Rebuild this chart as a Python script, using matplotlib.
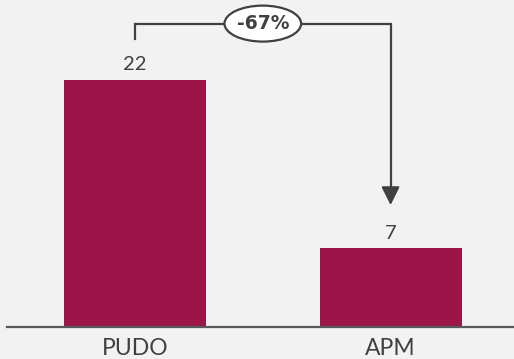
import matplotlib.pyplot as plt
from matplotlib.patches import Ellipse

categories = ["PUDO", "APM"]
values = [22, 7]
change_label = "-67%"

bar_color = "#9b1549"
text_color = "#404040"
bg = "#f2f2f2"

fig = plt.figure(figsize=(5.14, 3.59), dpi=100, facecolor=bg)
ax = fig.add_axes([7 / 514, 32 / 359, 507 / 514, 327 / 359])
ax.set_facecolor(bg)

x = range(len(categories))
ax.bar(x, values, width=0.556, color=bar_color)
ax.set_xlim(-0.501, 1.483)
ax.set_ylim(0, 29.1)

for xi, v in zip(x, values):
    ax.text(xi, v + 0.6, str(v), ha="center", va="bottom", fontsize=14.5,
            family="Lato", fontweight="normal", color=text_color)

# bracket with arrow showing the change
top = values[0] + 5.0
ax.plot([0, 0, 1, 1], [values[0] + 3.6, top, top, values[1] + 5.0],
        color=text_color, lw=1.6, solid_joinstyle="miter", clip_on=False)
ax.annotate("", xy=(1, values[1] + 3.85), xytext=(1, values[1] + 5.3),
            arrowprops=dict(arrowstyle="-|>,head_length=1.1,head_width=0.55",
                            color=text_color, lw=1.6, shrinkA=0, shrinkB=0))
mid = 0.5
ell = Ellipse((mid, top), width=0.30, height=3.2, facecolor="white",
              edgecolor=text_color, lw=1.6, zorder=3, clip_on=False)
ax.add_patch(ell)
ax.text(mid, top, change_label, ha="center", va="center", fontsize=13.5,
        family="DejaVu Sans", fontweight="bold", color=text_color, zorder=4)

for s in ["top", "right", "left"]:
    ax.spines[s].set_visible(False)
ax.spines["bottom"].set_color("#595959")
ax.spines["bottom"].set_linewidth(1.6)
ax.set_yticks([])
ax.set_xticks(list(x))
ax.set_xticklabels(categories, fontsize=16.5, family="Lato", fontweight="normal",
                   color=text_color)
ax.tick_params(axis="x", length=0, pad=8)

fig.savefig("out.png", dpi=100, facecolor=bg)
